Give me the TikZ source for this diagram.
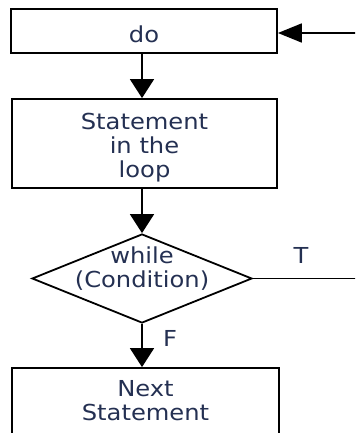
\documentclass[tikz,border=0pt]{standalone}
\usepackage{fontspec}
\setmainfont{DejaVu Sans}[FakeStretch=1.1]
\usetikzlibrary{shapes.geometric,arrows.meta}
\definecolor{txt}{RGB}{36,48,82}
\begin{document}
\begin{tikzpicture}[x=0.5pt,y=-0.5pt,
  every node/.style={font=\fontsize{11pt}{12pt}\selectfont, text=txt, align=center},
  procbox/.style={draw=black, line width=0.9pt, rectangle, inner sep=0pt},
  decbox/.style={draw=black, line width=0.9pt, diamond, inner sep=0pt, minimum width=110pt, minimum height=44.5pt},
  flow/.style={line width=0.9pt},
  vtip/.style={-{Triangle[length=9.5pt,width=12pt]}},
  htip/.style={-{Triangle[length=12pt,width=9.5pt]}},
  lbl/.style={inner sep=0pt}]
  \useasboundingbox (0,0) rectangle (355,433);
  \clip (0,0) rectangle (355,433);

  % boxes of the do ... while loop
  \node[procbox, minimum width=133pt, minimum height=22pt] (do) at (144,31) {};
  \node[procbox, minimum width=132.5pt, minimum height=44.5pt] (stmt) at (144.5,143.5) {};
  \node[decbox] (cond) at (142,278.5) {};
  \node[procbox, minimum width=133.5pt, minimum height=35pt] (next) at (145.5,403) {};

  % their texts
  \node[lbl] (dotext) at (144,34.6) {do};
  \node[lbl] (stmttext) at (144.5,148) {Statement\\in the\\loop};
  \node[lbl] (condtext) at (142,269) {while\\(Condition)};
  \node[lbl] (nexttext) at (145.5,400.5) {Next\\Statement};

  % loose ends of the back edge
  \coordinate (loopin) at (360,33);
  \coordinate (tout) at (360,278.5);

  % connectors
  \draw[flow, vtip] (do.south -| cond.north) -- (stmt.north -| cond.north);
  \draw[flow, vtip] (stmt.south -| cond.north) -- (cond.north);
  \draw[flow, vtip] (cond.south) -- (cond.south |- next.north);
  \draw[flow] (cond.east) -- (cond.east -| tout);
  \draw[flow, htip] (loopin) -- (loopin -| do.east);

  % branch labels
  \node[lbl] (tlabel) at (301,255) {T};
  \node[lbl] (flabel) at (170,338) {F};
\end{tikzpicture}
\end{document}
